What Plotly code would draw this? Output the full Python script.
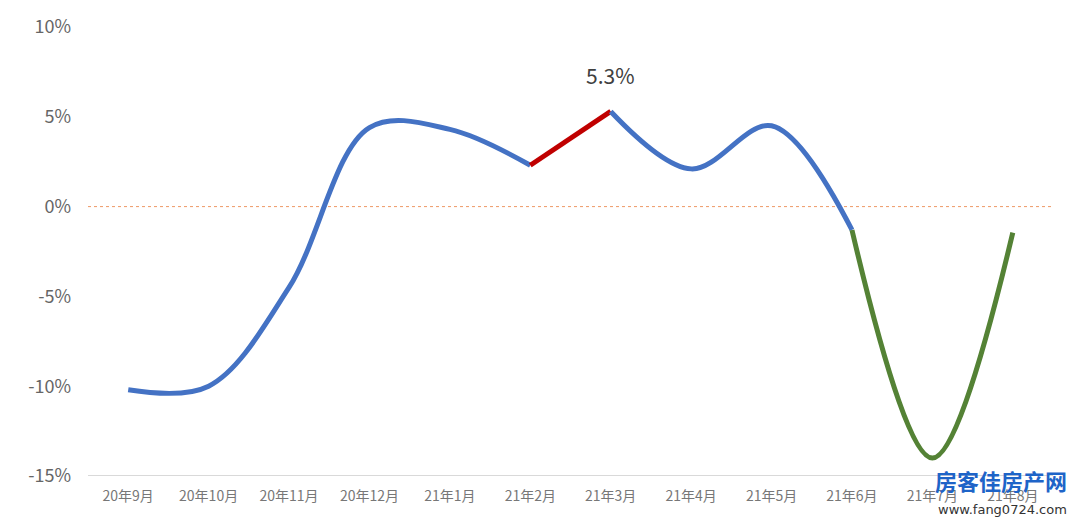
import plotly.graph_objects as go

months = ["20年9月", "20年10月", "20年11月", "20年12月", "21年1月", "21年2月",
          "21年3月", "21年4月", "21年5月", "21年6月", "21年7月", "21年8月"]
values = [-10.2, -10.0, -4.5, 4.4, 4.3, 2.3, 5.3, 2.1, 4.5, -1.3, -14.0, -1.45]
y_ticks = [-15, -10, -5, 0, 5, 10]
y_tick_labels = ["-15%", "-10%", "-5%", "0%", "5%", "10%"]

BLUE = "#4472C4"
RED = "#C00000"
GREEN = "#548235"

segments = [(0, 5, BLUE), (5, 6, RED), (6, 9, BLUE), (9, 11, GREEN)]

fig = go.Figure()
fig.add_hline(y=0, line=dict(color="#EE9966", width=1, dash="dot"), layer="below")
for a, b, col in segments:
    fig.add_trace(go.Scatter(
        x=months[a:b + 1], y=values[a:b + 1], mode="lines",
        line=dict(color=col, width=5, shape="spline", smoothing=1.0),
        hoverinfo="skip", showlegend=False))

fig.add_annotation(x=months[6], y=values[6], text="5.3%", showarrow=False,
                   yshift=36, font=dict(size=21, color="#404040"))

# watermark
fig.add_annotation(xref="paper", yref="paper", x=1.017, y=-0.05, xanchor="right", yanchor="bottom",
                   text="<b>房客佳房产网</b>", showarrow=False,
                   font=dict(size=22, color="#1E64C8", family="Noto Sans CJK SC"))
fig.add_annotation(xref="paper", yref="paper", x=1.017, y=-0.095, xanchor="right", yanchor="bottom",
                   text="www.fang0724.com", showarrow=False,
                   font=dict(size=13, color="#333333", family="DejaVu Sans"))

fig.update_layout(
    width=1080, height=522,
    margin=dict(l=88, r=27, t=27, b=46),
    paper_bgcolor="white", plot_bgcolor="white",
    font=dict(family="Noto Sans CJK SC, Noto Sans, sans-serif", color="#595959"),
    xaxis=dict(type="category", categoryorder="array", categoryarray=months,
               range=[-0.5, 11.5],
               showgrid=False, zeroline=False, showline=False,
               ticks="", ticklabelstandoff=10,
               tickfont=dict(size=14, color="#777777")),
    yaxis=dict(range=[-15, 10], tickvals=y_ticks, ticktext=y_tick_labels,
               showgrid=False, zeroline=False, showline=False, ticks="",
               ticklabelstandoff=16,
               tickfont=dict(size=18, color="#666666")),
)
fig.add_hline(y=-15, line=dict(color="#D9D9D9", width=2), layer="below")

fig.write_html("out.html")
